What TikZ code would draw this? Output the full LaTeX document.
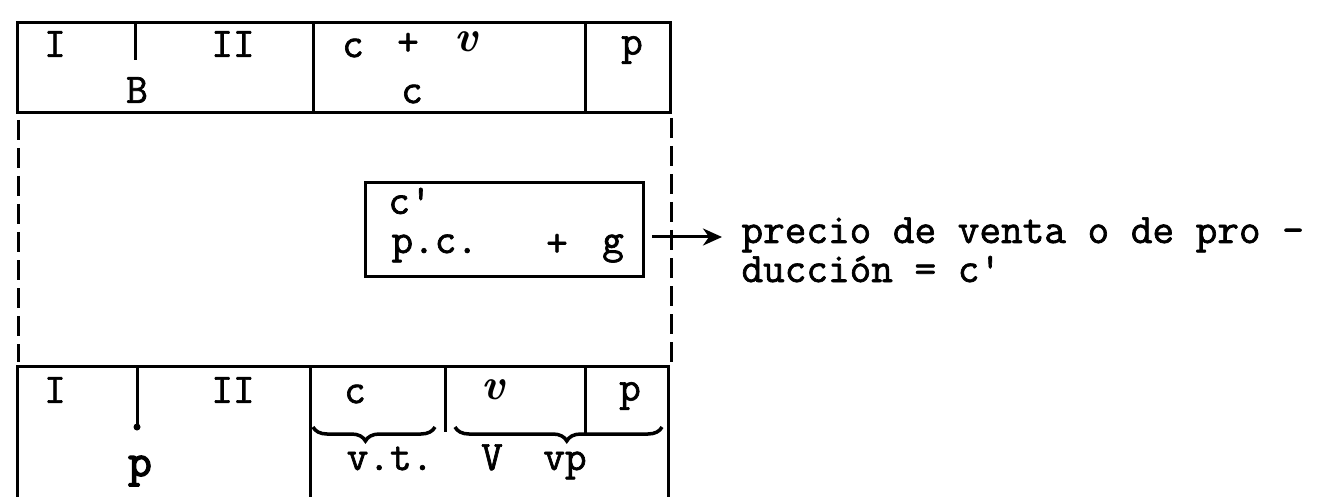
\documentclass[tikz,border=0pt]{standalone}
\usepackage{fontspec}
\newfontfamily\typer{Latin Modern Mono}[FakeBold=1.6]
\newfontfamily\typerheavy{Latin Modern Mono}[FakeBold=3.2]
\usetikzlibrary{decorations.pathreplacing,arrows.meta}
\begin{document}
\begin{tikzpicture}[x=1pt,y=-1pt,line width=3pt,
  tw/.style={font=\typer\fontsize{42}{42}\selectfont,inner sep=0pt},
  vv/.style={font=\rmfamily\bfseries\itshape\fontsize{44}{44}\selectfont,inner sep=0pt},
  dash line/.style={dash pattern=on 20pt off 8pt},
  curly/.style={decorate,decoration={brace,mirror,amplitude=14pt},line width=3.5pt}]
\useasboundingbox (0,0) rectangle (1336,497);
\clip (0,0) rectangle (1336,497);

% upper ledger row
\draw (17,23) rectangle (670,113);
\draw (313,23) -- (313,113);
\draw (585,23) -- (585,113);
\draw (135,23) -- (135,60);
\node[tw] (t1) at (55,44) {I};
\node[tw] (t2) at (233,44) {II};
\node[tw] (tb) at (137,90) {B};
\node[tw] (tc) at (353,48) {c};
\node[tw] (tplus) at (408,44) {+};
\node[vv] (tv) at (466,42) {v};
\node[tw] (tc2) at (412,94) {c};
\node[tw] (tp) at (632,50) {p};

% dashed sides of the middle band
\draw[dash line] (18,120) -- (18,362);
\draw[dash line] (671,118) -- (671,362);

% inner price box
\draw (365,183) rectangle (643,276);
\node[tw] (cp) at (410,201) {c'};
\node[tw,anchor=base west] (pc) at (390,253) {p.c.};
\node[tw] (plus) at (557,245) {+};
\node[tw,anchor=base] (g) at (613,253) {g};

% explanatory text and arrow
\node[tw,anchor=base west] (l1) at (740,243) {precio de venta o de pro -};
\node[tw,anchor=base west] (l2) at (740,282) {ducción = c'};
\coordinate (astart) at (652,237);
\path (astart -| l1.west) coordinate (aend0);
\draw[line width=3pt,-{Stealth[length=19pt,width=17pt,inset=6pt]}] (astart) -- ([xshift=-18pt]aend0);

% lower ledger row
\draw (17,497) -- (17,366) -- (668,366) -- (668,497);
\draw (310,366) -- (310,497);
\draw (445,366) -- (445,432);
\draw (585,366) -- (585,433);
\draw (137,366) -- (137,425);
\fill (137,427) circle (3.5pt);
\node[tw] (b1) at (55,390) {I};
\node[tw] (b2) at (233,390) {II};
\node[tw] (bc) at (355,394) {c};
\node[vv] (bv) at (493,390) {v};
\node[tw] (bp) at (630,396) {p};
\node[tw,font=\typerheavy\fontsize{46}{46}\selectfont,anchor=base] (bigp) at (140,476) {p};

% braces beneath the cells
\draw[curly,decoration={aspect=0.43}] (313,427) -- (435,427);
\draw[curly,decoration={aspect=0.54}] (455,427) -- (662,427);
\node[tw,anchor=base] (vt) at (390,470) {v.t.};
\node[tw,anchor=base] (bV) at (492,470) {V};
\node[tw,anchor=base] (bvp) at (565,470) {vp};
\end{tikzpicture}
\end{document}
